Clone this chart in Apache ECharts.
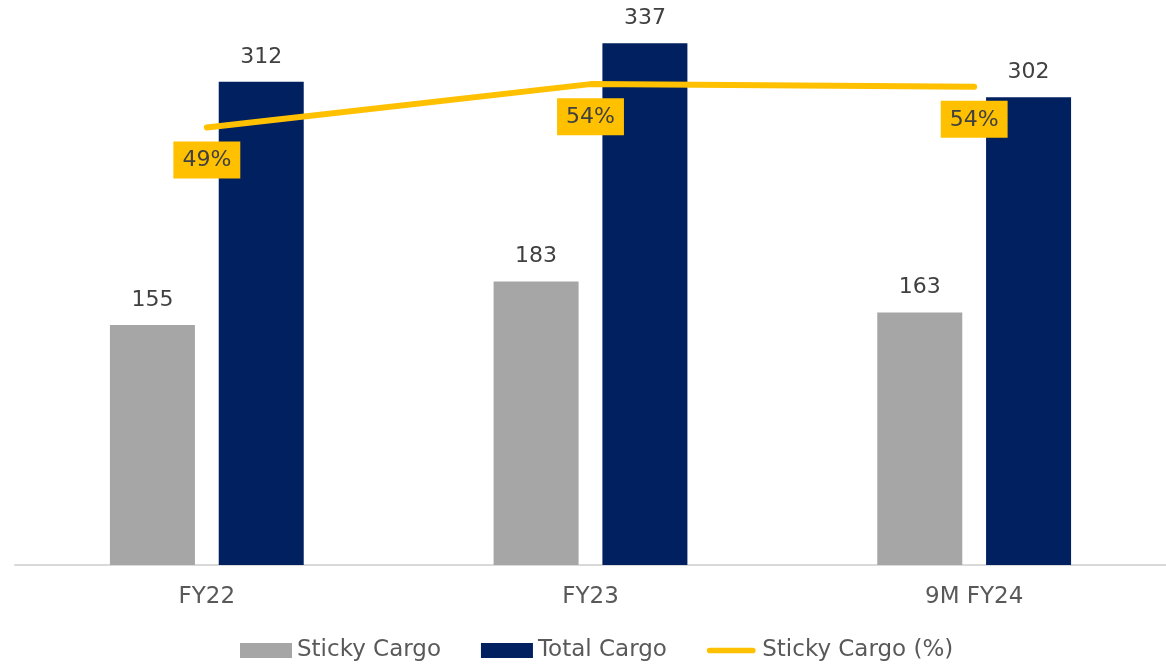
<!DOCTYPE html>
<html>
<head>
<meta charset="utf-8">
<script src="https://cdn.jsdelivr.net/npm/echarts@6/dist/echarts.min.js"></script>
<style>
html, body { margin: 0; padding: 0; background: #fff; }
#chart { width: 1166px; height: 664px; }
</style>
</head>
<body>
<div id="chart"></div>
<script>
var categories = ['FY22', 'FY23', '9M FY24'];
var stickyCargo = [155, 183, 163];
var totalCargo = [312, 337, 302];
var stickyPct = [49.4, 54.3, 54.0];

var font = 'DejaVu Sans';
var chart = echarts.init(document.getElementById('chart'));
var option = {
	textStyle: { fontFamily: font },
	animation: false,
	grid: {
		left: 15,
		right: 0,
		top: 23,
		bottom: 99
	},
	legend: {
		top: 634,
		left: 235,
		itemWidth: 52,
		itemHeight: 15,
		itemGap: 40,
		textStyle: { fontSize: 23, color: '#595959', fontFamily: font },
		data: [
			{ name: 'Sticky Cargo', icon: 'rect' },
			{ name: 'Total Cargo', icon: 'rect' },
			{
				name: 'Sticky Cargo (%)',
				// thin rounded bar, padded top and bottom so it is not stretched
				icon: 'path://M0,0L0.01,0M3,5L49,5A3,3,0,0,1,49,11L3,11A3,3,0,0,1,3,5ZM0,16L0.01,16'
			}
		]
	},
	xAxis: {
		type: 'category',
		data: categories,
		axisLine: { lineStyle: { color: '#D9D9D9', width: 2 } },
		axisTick: { show: false },
		axisLabel: { color: '#595959', fontSize: 23, margin: 21, fontFamily: font }
	},
	yAxis: [{
		type: 'value',
		min: 0,
		max: 350,
		show: false,
		splitLine: { show: false }
	}, {
		type: 'value',
		min: 0,
		max: 61.2,
		show: false,
		splitLine: { show: false }
	}],
	series: [{
		name: 'Sticky Cargo',
		type: 'bar',
		data: stickyCargo,
		barWidth: 85,
		barGap: '28%',
		itemStyle: { color: '#A6A6A6' },
		label: {
			show: true,
			position: 'top',
			distance: 14,
			fontSize: 22,
			color: '#404040',
			fontFamily: font
		}
	}, {
		name: 'Total Cargo',
		type: 'bar',
		data: totalCargo,
		barWidth: 85,
		itemStyle: { color: '#002060' },
		label: {
			show: true,
			position: 'top',
			distance: 14,
			fontSize: 22,
			color: '#404040',
			fontFamily: font
		}
	}, {
		name: 'Sticky Cargo (%)',
		type: 'line',
		yAxisIndex: 1,
		data: stickyPct,
		symbol: 'circle',
		symbolSize: 0.1,
		showSymbol: true,
		itemStyle: { color: '#FFC000' },
		lineStyle: { color: '#FFC000', width: 6, cap: 'round' },
		z: 5,
		label: {
			show: true,
			position: 'bottom',
			distance: 14,
			fontSize: 22,
			color: '#404040',
			backgroundColor: '#FFC000',
			padding: [8, 9, 7, 9],
			fontFamily: font,
			formatter: function(params) {
				return Math.round(params.value) + '%';
			}
		}
	}]
};
chart.setOption(option);
</script>
</body>
</html>
